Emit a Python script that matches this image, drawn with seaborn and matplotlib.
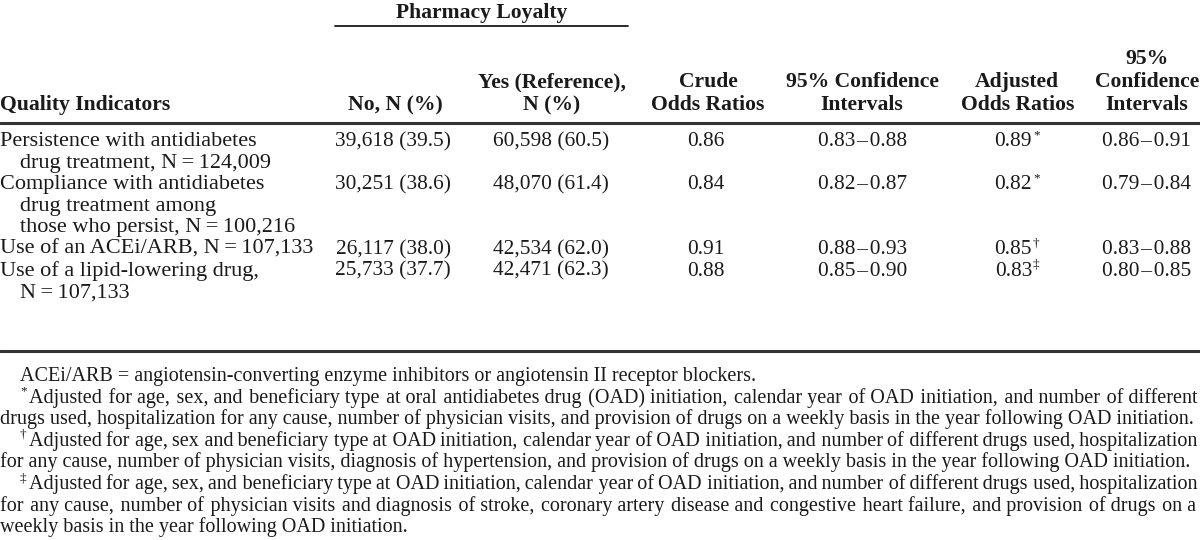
import matplotlib
matplotlib.use("Agg")
import matplotlib.pyplot as plt
import seaborn as sns

# table content
indicator_lines = [
    ["Persistence with antidiabetes", "drug treatment, N\u2009=\u2009124,009"],
    ["Compliance with antidiabetes", "drug treatment among", "those who persist, N\u2009=\u2009100,216"],
    ["Use of an ACEi/ARB, N\u2009=\u2009107,133"],
    ["Use of a lipid-lowering drug,", "N\u2009=\u2009107,133"],
]
no_counts = [39618, 30251, 26117, 25733]
no_pct = [39.5, 38.6, 38.0, 37.7]
yes_counts = [60598, 48070, 42534, 42471]
yes_pct = [60.5, 61.4, 62.0, 62.3]
crude_or = [0.86, 0.84, 0.91, 0.88]
crude_lo = [0.83, 0.82, 0.88, 0.85]
crude_hi = [0.88, 0.87, 0.93, 0.90]
adj_or = [0.89, 0.82, 0.85, 0.83]
adj_marks = ["*", "*", "\u2020", "\u2021"]
adj_lo = [0.86, 0.79, 0.83, 0.80]
adj_hi = [0.91, 0.84, 0.88, 0.85]

footnotes = [
    # (indent, mark, text, justified)
    (20, "", "ACEi/ARB = angiotensin-converting enzyme inhibitors or angiotensin II receptor blockers.", False),
    (20, "*", "Adjusted for age, sex, and beneficiary type at oral antidiabetes drug (OAD) initiation, calendar year of OAD initiation, and number of different", True),
    (0, "", "drugs used, hospitalization for any cause, number of physician visits, and provision of drugs on a weekly basis in the year following OAD initiation.", False),
    (20, "\u2020", "Adjusted for age, sex and beneficiary type at OAD initiation, calendar year of OAD initiation, and number of different drugs used, hospitalization", True),
    (0, "", "for any cause, number of physician visits, diagnosis of hypertension, and provision of drugs on a weekly basis in the year following OAD initiation.", False),
    (20, "\u2021", "Adjusted for age, sex, and beneficiary type at OAD initiation, calendar year of OAD initiation, and number of different drugs used, hospitalization", True),
    (0, "", "for any cause, number of physician visits and diagnosis of stroke, coronary artery disease and congestive heart failure, and provision of drugs on a", True),
    (0, "", "weekly basis in the year following OAD initiation.", False),
]

sns.set_theme(style="white")
plt.rcParams["font.family"] = ["Liberation Serif", "DejaVu Serif"]

W, H = 1200, 540
fig = plt.figure(figsize=(12, 5.4), dpi=100)
ax = fig.add_axes([0, 0, 1, 1])
ax.set_xlim(0, W)
ax.set_ylim(H, 0)
ax.axis("off")

ink = "#1a1a1a"
bold = dict(fontsize=15.6, fontweight="bold", color=ink)
words_kw = dict(fontsize=16, color=ink)
nums_kw = dict(fontsize=15.4, color=ink)
foot_size = 14.5
dash = "\u200a\u2013\u200a"

# header
ax.text(482, 18, "Pharmacy Loyalty", ha="center", va="baseline", **bold)
ax.plot([335, 628], [26, 26], color=ink, lw=1.3)
ax.text(1147, 64, "95%", ha="center", va="baseline", **bold)
row2 = [(552, "Yes (Reference),"), (708, "Crude"), (862, "95% Confidence"),
        (1017, "Adjusted"), (1147, "Confidence")]
for x, s in row2:
    ax.text(x, 87, s, ha="center", va="baseline", **bold)
ax.text(0, 110, "Quality Indicators", ha="left", va="baseline", **bold)
ax.text(443, 110, "No, N (%)", ha="right", va="baseline", **bold)
row3 = [(552, "N (%)"), (708, "Odds Ratios"), (862, "Intervals"),
        (1018, "Odds Ratios"), (1147, "Intervals")]
for x, s in row3:
    ax.text(x, 110, s, ha="center", va="baseline", **bold)
ax.plot([0, W], [122.5, 122.5], color="#333333", lw=2.2)

# body
line_h = 21.6
y = 146
for i, lines in enumerate(indicator_lines):
    for j, s in enumerate(lines):
        ax.text(0 if j == 0 else 20, y + j * line_h, s, ha="left", va="baseline", **words_kw)
    ax.text(451, y, f"{no_counts[i]:,} ({no_pct[i]:.1f})", ha="right", va="baseline", **nums_kw)
    ax.text(609, y, f"{yes_counts[i]:,} ({yes_pct[i]:.1f})", ha="right", va="baseline", **nums_kw)
    ax.text(706, y, f"{crude_or[i]:.2f}", ha="center", va="baseline", **nums_kw)
    ax.text(863, y, f"{crude_lo[i]:.2f}{dash}{crude_hi[i]:.2f}", ha="center", va="baseline", **nums_kw)
    ax.text(1032, y, f"{adj_or[i]:.2f}", ha="right", va="baseline", **nums_kw)
    ax.text(1033, y - 8, adj_marks[i], ha="left", va="baseline", fontsize=9.5, color=ink)
    ax.text(1147, y, f"{adj_lo[i]:.2f}{dash}{adj_hi[i]:.2f}", ha="center", va="baseline", **nums_kw)
    y += len(lines) * line_h
ax.plot([0, W], [351, 351], color="#333333", lw=2.2)

# footnotes; justified lines are padded with hair spaces inside one text
fig.canvas.draw()
renderer = fig.canvas.get_renderer()


def str_width(s, size):
    t = ax.text(0, -100, s, fontsize=size)
    w = t.get_window_extent(renderer=renderer).width
    t.remove()
    return w


def space_unit(size):
    base = str_width("aa", size)
    best = (" ", str_width("a a", size) - base)
    for ch in ["\u2009", "\u200a"]:
        w = str_width("a" + ch + "a", size) - base
        if 0.3 < w < best[1]:
            best = (ch, w)
    return best


def pad(words, sep, extra, unit_ch, unit_w):
    n = len(words) - 1
    out, added = words[0], 0.0
    for k, wd in enumerate(words[1:], start=1):
        want = extra * k / n - added
        cnt = max(0, int(round(want / unit_w)))
        added += cnt * unit_w
        out += sep + unit_ch * cnt + wd
    return out


def justify(s, target):
    words = s.split(" ")
    size = foot_size
    while size > 11:
        unit_ch, unit_w = space_unit(size)
        for sep in [" ", "\u2009"]:
            natural = str_width(sep.join(words), size)
            if natural > target:
                continue
            extra = target - natural
            out = sep.join(words)
            for _ in range(10):
                out = pad(words, sep, extra, unit_ch, unit_w)
                diff = str_width(out, size) - target
                if -1.5 < diff <= 0:
                    break
                extra -= diff if diff > 0 else diff * 0.9
            if str_width(out, size) <= target + 0.5:
                return out, size
        size -= 0.1
    return s, size


fy = 381
for indent, mark, s, just in footnotes:
    x0 = indent
    size = foot_size
    if mark:
        ax.text(x0, fy - 8, mark, ha="left", va="baseline", fontsize=9.5, color=ink)
        x0 += str_width(mark, 9.5) + 2
    if just:
        s, size = justify(s, W - 3 - x0)
    ax.text(x0, fy, s, ha="left", va="baseline", fontsize=size, color=ink)
    fy += line_h

fig.savefig("out.png", dpi=100, facecolor="white")
